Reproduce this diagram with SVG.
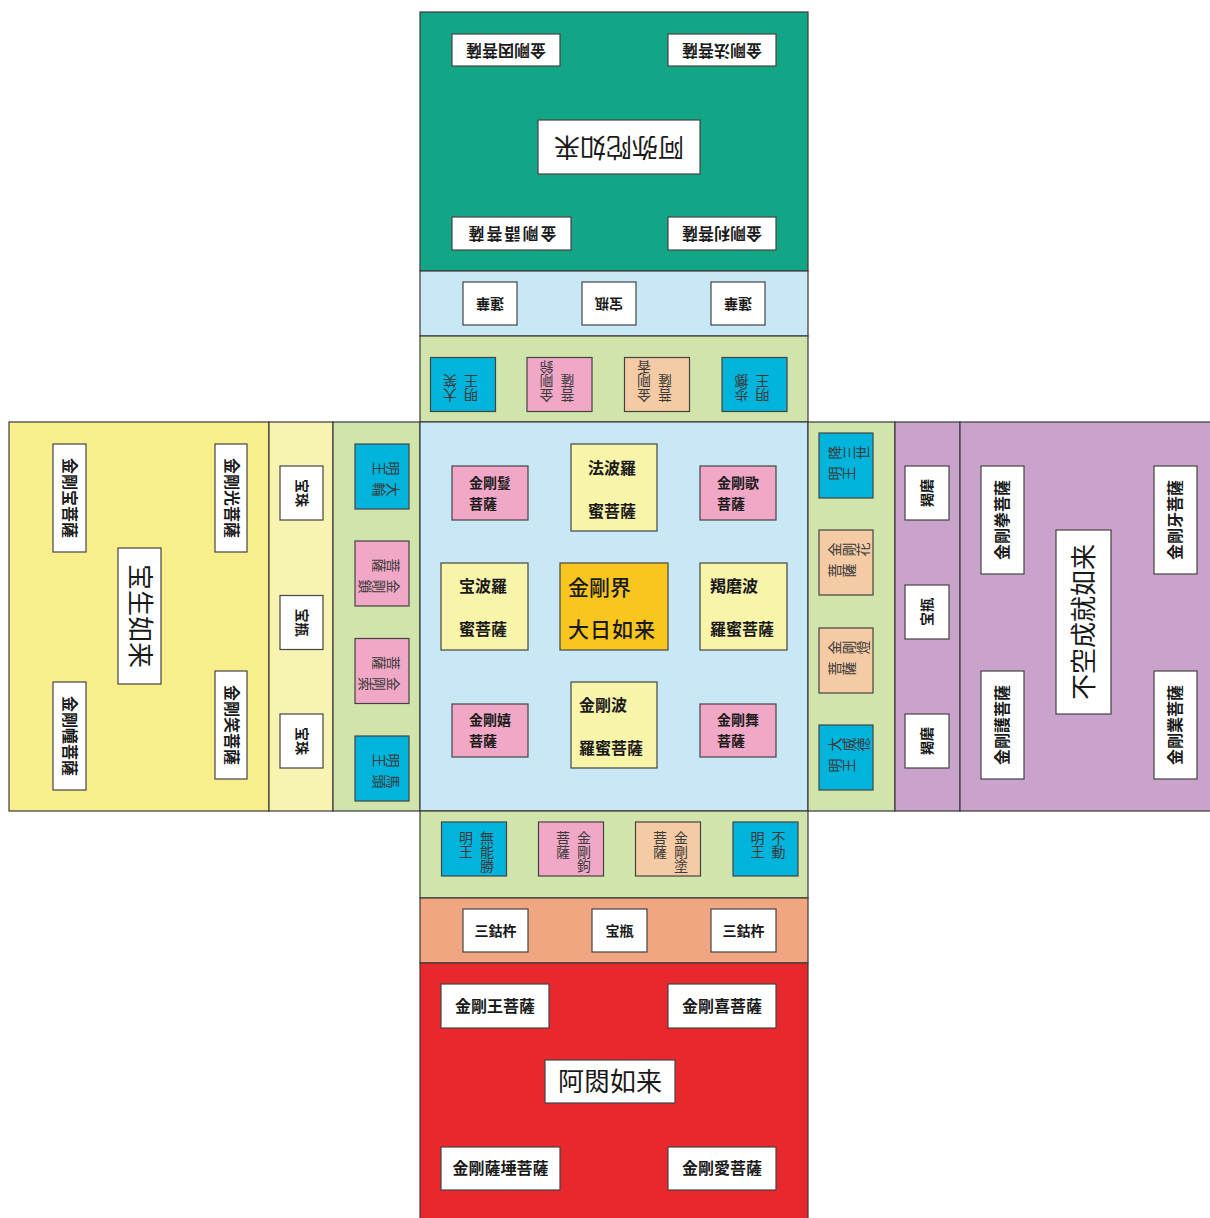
<svg xmlns="http://www.w3.org/2000/svg" width="1210" height="1218" viewBox="0 0 1210 1218">
<style>
text{font-family:'Liberation Sans','Noto Sans CJK JP',sans-serif;fill:#1a1a1a}
.sec{stroke:#3a3a3a;stroke-width:1.2}
.box{stroke:#444;stroke-width:1.2}
.w{fill:#fff}
.pk{fill:#f1a8c6}
.pc{fill:#f4cba4}
.bl{fill:#00b4dc}
.cr{fill:#f8f4aa}
.gd{fill:#f9c61f}
.lb{font-size:16px;font-weight:bold;text-anchor:middle;dominant-baseline:central}
.sm{font-size:14px;font-weight:bold;text-anchor:middle;dominant-baseline:central}
.big{font-size:26px;text-anchor:middle;dominant-baseline:central}
.v{font-size:14px;writing-mode:vertical-rl;fill:#3a3a3a}
.c2{font-size:16px;font-weight:bold;dominant-baseline:central}
.c3{font-size:14px;font-weight:bold;dominant-baseline:central}
.c4{font-size:21px;font-weight:500;dominant-baseline:central}
</style>
<defs>
<rect id="cb" x="-32.5" y="-27" width="65" height="54"/>
</defs>
<g id="sections">
<rect class="sec" x="420" y="12" width="388" height="259" fill="#12a586"/>
<rect class="sec" x="420" y="271" width="388" height="65" fill="#c8e8f5"/>
<rect class="sec" x="420" y="336" width="388" height="86" fill="#d1e4ab"/>
<rect class="sec" x="9" y="422" width="260" height="389" fill="#f9ee8c"/>
<rect class="sec" x="269" y="422" width="64" height="389" fill="#f7f3b1"/>
<rect class="sec" x="333" y="422" width="87" height="389" fill="#d1e4ab"/>
<rect class="sec" x="420" y="422" width="388" height="389" fill="#c8e8f5"/>
<rect class="sec" x="808" y="422" width="87" height="389" fill="#d1e4ab"/>
<rect class="sec" x="895" y="422" width="65" height="389" fill="#c9a3cb"/>
<rect class="sec" x="960" y="422" width="252" height="389" fill="#c9a3cb"/>
<rect class="sec" x="420" y="811" width="388" height="87" fill="#d1e4ab"/>
<rect class="sec" x="420" y="898" width="388" height="65" fill="#f0a680"/>
<rect class="sec" x="420" y="963" width="388" height="257" fill="#e9282e"/>
</g>
<g id="connectors"/>

<!-- top (Amitabha), rotated 180 -->
<g id="n-kongo-in" transform="translate(506,50) rotate(180)"><rect class="box w" x="-54" y="-16" width="108" height="32"/><text class="lb">金剛因菩薩</text></g>
<g id="n-kongo-ho" transform="translate(722,50) rotate(180)"><rect class="box w" x="-54" y="-16" width="108" height="32"/><text class="lb">金剛法菩薩</text></g>
<g id="n-amida" transform="translate(619,147) rotate(180)"><rect class="box w" x="-81" y="-27" width="162" height="54"/><text class="big">阿弥陀如来</text></g>
<g id="n-kongo-go" transform="translate(511.5,233.5) rotate(180)"><rect class="box w" x="-59.5" y="-16.5" width="119" height="33"/><text class="lb" letter-spacing="2">金剛語菩薩</text></g>
<g id="n-kongo-ri" transform="translate(722,233.5) rotate(180)"><rect class="box w" x="-54" y="-16.5" width="108" height="33"/><text class="lb">金剛利菩薩</text></g>
<g id="n-renge1" transform="translate(490,303.5) rotate(180)"><rect class="box w" x="-27" y="-21.5" width="54" height="43"/><text class="sm">蓮華</text></g>
<g id="n-hobyo1" transform="translate(609,303.5) rotate(180)"><rect class="box w" x="-27" y="-21.5" width="54" height="43"/><text class="sm">宝瓶</text></g>
<g id="n-renge2" transform="translate(738,303.5) rotate(180)"><rect class="box w" x="-27" y="-21.5" width="54" height="43"/><text class="sm">蓮華</text></g>
<g id="n-daisho" transform="translate(463,384.5) rotate(180)"><use href="#cb" class="box bl"/><text class="v" x="12" y="-18">大笑</text><text class="v" x="-9" y="-18">明王</text></g>
<g id="n-kongo-rei" transform="translate(559.5,384.5) rotate(180)"><use href="#cb" class="box pk"/><text class="v" x="12" y="-18">金剛鈴</text><text class="v" x="-9" y="-18">菩薩</text></g>
<g id="n-kongo-ko" transform="translate(657,384.5) rotate(180)"><use href="#cb" class="box pc"/><text class="v" x="12" y="-18">金剛香</text><text class="v" x="-9" y="-18">菩薩</text></g>
<g id="n-hoshaku" transform="translate(754.5,384.5) rotate(180)"><use href="#cb" class="box bl"/><text class="v" x="12" y="-18">歩擲</text><text class="v" x="-9" y="-18">明王</text></g>

<!-- left (Ratnasambhava), rotated 90 -->
<g id="n-kongo-ho2" transform="translate(69.5,498) rotate(90)"><rect class="box w" x="-54" y="-16.5" width="108" height="33"/><text class="lb">金剛宝菩薩</text></g>
<g id="n-kongo-ko2" transform="translate(231,498) rotate(90)"><rect class="box w" x="-54" y="-16" width="108" height="32"/><text class="lb">金剛光菩薩</text></g>
<g id="n-hosho" transform="translate(139.5,616) rotate(90)"><rect class="box w" x="-68" y="-21.5" width="136" height="43"/><text class="big" font-size="27">宝生如来</text></g>
<g id="n-kongo-do" transform="translate(69.5,736) rotate(90)"><rect class="box w" x="-54" y="-16.5" width="108" height="33"/><text class="lb">金剛幢菩薩</text></g>
<g id="n-kongo-sho" transform="translate(231,725) rotate(90)"><rect class="box w" x="-54" y="-16" width="108" height="32"/><text class="lb">金剛笑菩薩</text></g>
<g id="n-hoju1" transform="translate(301.5,493) rotate(90)"><rect class="box w" x="-27" y="-21.5" width="54" height="43"/><text class="sm">宝珠</text></g>
<g id="n-hobyo2" transform="translate(301.5,622.5) rotate(90)"><rect class="box w" x="-27" y="-21.5" width="54" height="43"/><text class="sm">宝瓶</text></g>
<g id="n-hoju2" transform="translate(301.5,741) rotate(90)"><rect class="box w" x="-27" y="-21.5" width="54" height="43"/><text class="sm">宝珠</text></g>
<g id="n-dairin" transform="translate(382,476.5) rotate(90)"><use href="#cb" class="box bl"/><text class="v" x="12" y="-18">大輪</text><text class="v" x="-9" y="-18">明王</text></g>
<g id="n-kongo-sa" transform="translate(382,573.5) rotate(90)"><use href="#cb" class="box pk"/><text class="v" x="12" y="-18">金剛鎖</text><text class="v" x="-9" y="-18">菩薩</text></g>
<g id="n-kongo-saku" transform="translate(382,671) rotate(90)"><use href="#cb" class="box pk"/><text class="v" x="12" y="-18">金剛索</text><text class="v" x="-9" y="-18">菩薩</text></g>
<g id="n-bato" transform="translate(382,768.5) rotate(90)"><use href="#cb" class="box bl"/><text class="v" x="12" y="-18">馬頭</text><text class="v" x="-9" y="-18">明王</text></g>

<!-- right (Amoghasiddhi), rotated -90 -->
<g id="n-gozanze" transform="translate(846,465.5) rotate(-90)"><use href="#cb" class="box bl"/><text class="v" x="12" y="-18">降三世</text><text class="v" x="-9" y="-18">明王</text></g>
<g id="n-kongo-ke" transform="translate(846,562.5) rotate(-90)"><use href="#cb" class="box pc"/><text class="v" x="12" y="-18">金剛花</text><text class="v" x="-9" y="-18">菩薩</text></g>
<g id="n-kongo-to" transform="translate(846,660.5) rotate(-90)"><use href="#cb" class="box pc"/><text class="v" x="12" y="-18">金剛燈</text><text class="v" x="-9" y="-18">菩薩</text></g>
<g id="n-daiitoku" transform="translate(846,757.5) rotate(-90)"><use href="#cb" class="box bl"/><text class="v" x="12" y="-18">大威徳</text><text class="v" x="-9" y="-18">明王</text></g>
<g id="n-katsuma1" transform="translate(927,493) rotate(-90)"><rect class="box w" x="-27" y="-22" width="54" height="44"/><text class="sm">羯磨</text></g>
<g id="n-hobyo3" transform="translate(927,612) rotate(-90)"><rect class="box w" x="-27" y="-22" width="54" height="44"/><text class="sm">宝瓶</text></g>
<g id="n-katsuma2" transform="translate(927,741) rotate(-90)"><rect class="box w" x="-27" y="-22" width="54" height="44"/><text class="sm">羯磨</text></g>
<g id="n-kongo-ken" transform="translate(1002.5,520) rotate(-90)"><rect class="box w" x="-54" y="-21.5" width="108" height="43"/><text class="lb">金剛拳菩薩</text></g>
<g id="n-kongo-ge" transform="translate(1175.5,520) rotate(-90)"><rect class="box w" x="-54" y="-21.5" width="108" height="43"/><text class="lb">金剛牙菩薩</text></g>
<g id="n-fuku" transform="translate(1083.5,622) rotate(-90)"><rect class="box w" x="-92" y="-27.5" width="184" height="55"/><text class="big">不空成就如来</text></g>
<g id="n-kongo-gon" transform="translate(1002.5,725) rotate(-90)"><rect class="box w" x="-54" y="-21.5" width="108" height="43"/><text class="lb">金剛護菩薩</text></g>
<g id="n-kongo-go2" transform="translate(1175.5,725) rotate(-90)"><rect class="box w" x="-54" y="-21.5" width="108" height="43"/><text class="lb">金剛業菩薩</text></g>

<!-- center -->
<g id="n-kongo-man"><rect class="box pk" x="452" y="466" width="76" height="54"/><text class="c3" x="469" y="483">金剛鬘</text><text class="c3" x="469" y="504">菩薩</text></g>
<g id="n-hoharamitsu"><rect class="box cr" x="571" y="444" width="86" height="87"/><text class="c2" x="588" y="468">法波羅</text><text class="c2" x="588" y="511">蜜菩薩</text></g>
<g id="n-kongo-ka"><rect class="box pk" x="700" y="466" width="76" height="54"/><text class="c3" x="717" y="483">金剛歌</text><text class="c3" x="717" y="504">菩薩</text></g>
<g id="n-hoharamitsu2"><rect class="box cr" x="441" y="563" width="87" height="87"/><text class="c2" x="459" y="586">宝波羅</text><text class="c2" x="459" y="629">蜜菩薩</text></g>
<g id="n-dainichi"><rect class="box gd" x="560" y="563" width="108" height="87"/><text class="c4" x="568" y="587">金剛界</text><text class="c4" x="568" y="629" letter-spacing="1">大日如来</text></g>
<g id="n-katsumaharamitsu"><rect class="box cr" x="700" y="563" width="87" height="87"/><text class="c2" x="710" y="586">羯磨波</text><text class="c2" x="710" y="629">羅蜜菩薩</text></g>
<g id="n-kongo-ki"><rect class="box pk" x="452" y="704" width="76" height="53"/><text class="c3" x="469" y="720">金剛嬉</text><text class="c3" x="469" y="741">菩薩</text></g>
<g id="n-kongoharamitsu"><rect class="box cr" x="571" y="682" width="86" height="86"/><text class="c2" x="579" y="705">金剛波</text><text class="c2" x="579" y="748">羅蜜菩薩</text></g>
<g id="n-kongo-bu"><rect class="box pk" x="700" y="704" width="76" height="53"/><text class="c3" x="717" y="720">金剛舞</text><text class="c3" x="717" y="741">菩薩</text></g>

<!-- bottom (Akshobhya) -->
<g id="n-munosho" transform="translate(474,849)"><use href="#cb" class="box bl"/><text class="v" x="12" y="-18">無能勝</text><text class="v" x="-9" y="-18">明王</text></g>
<g id="n-kongo-ku" transform="translate(571,849)"><use href="#cb" class="box pk"/><text class="v" x="12" y="-18">金剛鉤</text><text class="v" x="-9" y="-18">菩薩</text></g>
<g id="n-kongo-zu" transform="translate(668,849)"><use href="#cb" class="box pc"/><text class="v" x="12" y="-18">金剛塗</text><text class="v" x="-9" y="-18">菩薩</text></g>
<g id="n-fudo" transform="translate(765.5,849)"><use href="#cb" class="box bl"/><text class="v" x="12" y="-18">不動</text><text class="v" x="-9" y="-18">明王</text></g>
<g id="n-sanko1" transform="translate(495.5,930.5)"><rect class="box w" x="-32.5" y="-21.5" width="65" height="43"/><text class="sm">三鈷杵</text></g>
<g id="n-hobyo4" transform="translate(619.5,930.5)"><rect class="box w" x="-27.5" y="-21.5" width="55" height="43"/><text class="sm">宝瓶</text></g>
<g id="n-sanko2" transform="translate(743.5,930.5)"><rect class="box w" x="-32.5" y="-21.5" width="65" height="43"/><text class="sm">三鈷杵</text></g>
<g id="n-kongo-o" transform="translate(495,1006)"><rect class="box w" x="-54" y="-22" width="108" height="44"/><text class="lb">金剛王菩薩</text></g>
<g id="n-kongo-kii" transform="translate(722,1006)"><rect class="box w" x="-54" y="-22" width="108" height="44"/><text class="lb">金剛喜菩薩</text></g>
<g id="n-ashuku" transform="translate(610,1081.5)"><rect class="box w" x="-65" y="-21.5" width="130" height="43"/><text class="big">阿閦如来</text></g>
<g id="n-kongo-satta" transform="translate(500.5,1168.5)"><rect class="box w" x="-59.5" y="-21.5" width="119" height="43"/><text class="lb">金剛薩埵菩薩</text></g>
<g id="n-kongo-ai" transform="translate(722,1168.5)"><rect class="box w" x="-54" y="-21.5" width="108" height="43"/><text class="lb">金剛愛菩薩</text></g>
</svg>
